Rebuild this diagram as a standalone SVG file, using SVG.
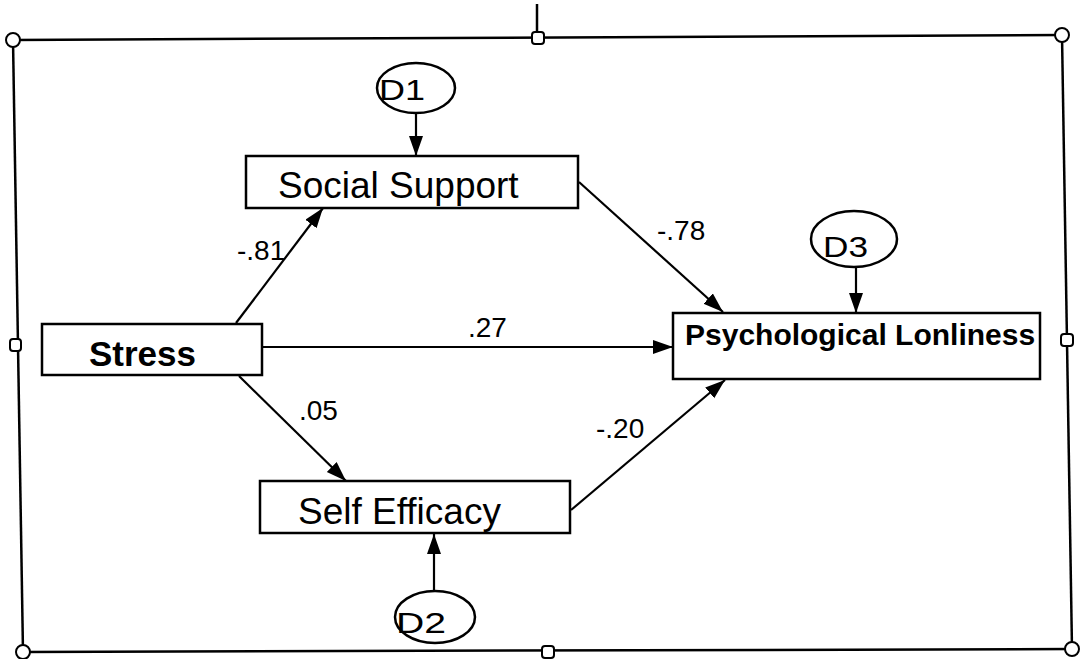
<svg xmlns="http://www.w3.org/2000/svg" width="1087" height="659" viewBox="0 0 1087 659">
<defs>
<style>
.frame{stroke:#000;stroke-width:2.5;fill:none}
.handle{stroke:#000;stroke-width:2;fill:#fff}
.box{stroke:#000;stroke-width:2.5;fill:#fff}
.ell{stroke:#000;stroke-width:2.5;fill:#fff}
.edge{stroke:#000;stroke-width:2.2;fill:none;marker-end:url(#ah)}
.lbl{font-family:"Liberation Sans",Arial,sans-serif;fill:#000}
.b{font-weight:bold}
</style>
<marker id="ah" markerUnits="userSpaceOnUse" markerWidth="22" markerHeight="16" refX="20" refY="7" orient="auto">
<path d="M0,0 L20,7 L0,14 z" fill="#000"/>
</marker>
</defs>
<rect width="1087" height="659" fill="#fff"/>
<g id="frame">
<line class="frame" x1="537" y1="4" x2="537" y2="32"/>
<line class="frame" x1="13" y1="40" x2="1062" y2="35"/>
<line class="frame" x1="1062" y1="35" x2="1072" y2="649"/>
<line class="frame" x1="1072" y1="649" x2="23" y2="652"/>
<line class="frame" x1="23" y1="652" x2="13" y2="40"/>
<circle class="handle" cx="13" cy="40" r="7"/>
<circle class="handle" cx="1062" cy="35" r="7"/>
<circle class="handle" cx="1072" cy="649" r="7"/>
<circle class="handle" cx="23" cy="652" r="7"/>
<rect class="handle" x="532" y="32" width="12" height="12" rx="3"/>
<rect class="handle" x="1061" y="334" width="12" height="12" rx="3"/>
<rect class="handle" x="542" y="646" width="12" height="12" rx="3"/>
<rect class="handle" x="10" y="339" width="11" height="12" rx="3"/>
</g>
<g id="connectors">
<line class="edge" x1="416" y1="113" x2="416" y2="156"/>
<line class="edge" x1="434" y1="590" x2="434" y2="534"/>
<line class="edge" x1="856" y1="267" x2="856" y2="313"/>
<line class="edge" x1="236" y1="323" x2="323" y2="208"/>
<line class="edge" x1="262" y1="347" x2="673" y2="347"/>
<line class="edge" x1="239" y1="376" x2="346" y2="481"/>
<line class="edge" x1="579" y1="182" x2="723" y2="312"/>
<line class="edge" x1="571" y1="510" x2="725" y2="380"/>
<text class="lbl" x="237" y="260" font-size="28">-.81</text>
<text class="lbl" x="657" y="240" font-size="28">-.78</text>
<text class="lbl" x="468" y="337" font-size="28">.27</text>
<text class="lbl" x="299" y="420" font-size="28">.05</text>
<text class="lbl" x="596" y="438" font-size="28">-.20</text>
</g>
<g id="D1">
<ellipse class="ell" cx="416" cy="88" rx="39" ry="25"/>
<text class="lbl" x="379" y="100" font-size="29" textLength="46" lengthAdjust="spacingAndGlyphs">D1</text>
</g>
<g id="D2">
<ellipse class="ell" cx="435" cy="617" rx="40" ry="26"/>
<text class="lbl" x="396" y="633" font-size="29" textLength="50" lengthAdjust="spacingAndGlyphs">D2</text>
</g>
<g id="D3">
<ellipse class="ell" cx="854" cy="239" rx="43" ry="28"/>
<text class="lbl" x="823" y="257" font-size="29" textLength="45" lengthAdjust="spacingAndGlyphs">D3</text>
</g>
<g id="social-support">
<rect class="box" x="246" y="156" width="332" height="52"/>
<text class="lbl" x="278" y="198" font-size="37">Social Support</text>
</g>
<g id="stress">
<rect class="box" x="42" y="324" width="220" height="51"/>
<text class="lbl b" x="89" y="366" font-size="35">Stress</text>
</g>
<g id="self-efficacy">
<rect class="box" x="260" y="481" width="310" height="52"/>
<text class="lbl" x="298" y="524" font-size="37">Self Efficacy</text>
</g>
<g id="psychological-lonliness">
<rect class="box" x="673" y="313" width="367" height="66"/>
<text class="lbl b" x="685" y="345" font-size="30">Psychological Lonliness</text>
</g>
</svg>
